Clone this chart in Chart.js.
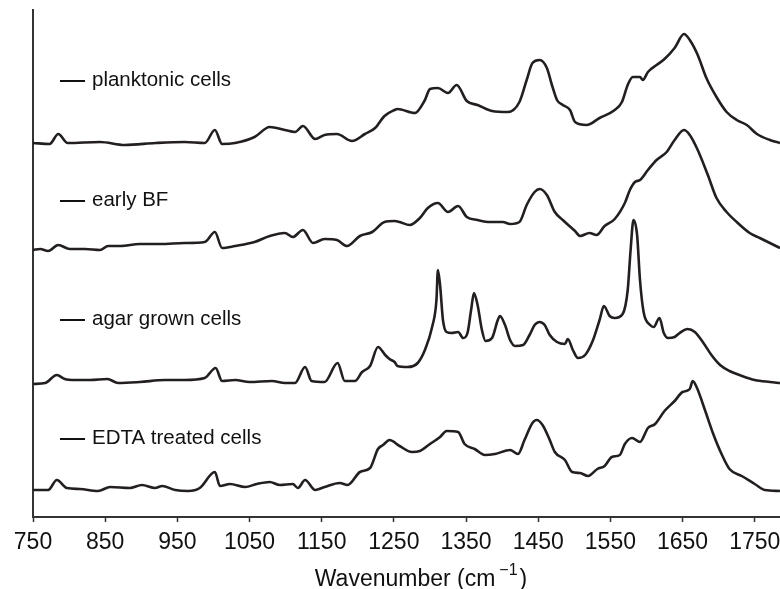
<!DOCTYPE html>
<html><head><meta charset="utf-8">
<script src="https://cdn.jsdelivr.net/npm/chart.js@4/dist/chart.umd.min.js"></script>
<style>html,body{margin:0;padding:0;background:#fff}</style>
</head><body>
<canvas id="c" width="780" height="589"></canvas>
<script>
// ---- data ----
const SERIES_NAMES = ['planktonic cells', 'early BF', 'agar grown cells', 'EDTA treated cells'];
const OFFSETS = [374, 267, 134, 27];           // vertical stacking offsets (a.u.)
const LABEL_LEVELS = [437, 317, 198, 79];       // label heights (a.u.)
const X_TICKS = [750, 850, 950, 1050, 1150, 1250, 1350, 1450, 1550, 1650, 1750];

const planktonicWn = [750,773,785,798,843,877,920,960,988,1002,
  1012,1030,1057,1078,1099,1113,1124,1141,1154,1171,
  1192,1210,1224,1237,1251,1255,1279,1293,1300,1311,
  1325,1337,1351,1366,1386,1408,1424,1434,1442,1452,
  1462,1469,1476,1484,1494,1501,1517,1535,1556,1566,
  1574,1581,1591,1595,1602,1614,1625,1639,1652,1660,
  1671,1683,1697,1711,1725,1739,1753,1771,1785];
const planktonicI = [0,-1,9,0,1,-2,0,1,0,13,
  -1,0,6,16,13,11,17,4,8,9,
  2,9,15,27,33,34,30,43,54,55,
  50,58,42,38,32,31,41,63,80,83,
  75,58,43,38,33,21,18,25,33,41,
  58,66,66,63,71,78,84,95,109,103,
  88,65,46,31,23,18,9,3,0];

const earlyWn = [750,760,771,785,801,822,843,854,871,898,
  926,960,988,1002,1012,1030,1057,1078,1099,1110,
  1124,1138,1154,1171,1185,1203,1220,1237,1251,1258,
  1272,1286,1297,1311,1325,1339,1351,1366,1383,1401,
  1411,1424,1434,1445,1452,1462,1473,1484,1501,1508,
  1521,1531,1542,1556,1570,1577,1584,1591,1602,1614,
  1628,1639,1652,1660,1671,1685,1697,1711,1725,1743,
  1757,1771,1785];
const earlyI = [0,1,-1,5,1,1,0,4,4,6,
  6,7,8,18,2,4,8,14,17,13,
  20,7,11,10,4,14,18,28,29,28,
  25,32,42,47,38,44,33,30,28,28,
  26,28,45,58,61,55,38,30,19,14,
  17,15,24,31,47,60,68,70,80,90,
  98,110,120,115,100,75,52,38,28,17,
  12,7,2];

const agarWn = [750,767,783,794,808,829,853,868,898,933,
  960,988,1003,1012,1030,1050,1081,1099,1113,1127,
  1136,1154,1172,1182,1196,1206,1217,1228,1238,1244,
  1251,1255,1269,1283,1293,1303,1309,1311,1314,1318,
  1323,1330,1339,1346,1352,1357,1361,1366,1372,1377,
  1386,1394,1397,1404,1411,1418,1429,1438,1445,1452,
  1459,1466,1476,1487,1491,1498,1505,1515,1526,1535,
  1541,1549,1556,1567,1574,1578,1582,1587,1591,1596,
  1605,1610,1618,1624,1630,1639,1646,1657,1667,1678,
  1690,1702,1715,1729,1750,1771,1785];
const agarI = [-1,0,8,4,3,3,4,0,1,3,
  3,5,15,2,3,1,2,0,0,16,
  2,1,20,2,2,11,17,36,28,24,
  21,17,16,20,33,56,83,113,98,63,
  51,50,51,45,50,73,90,78,53,42,
  45,63,67,58,43,37,38,48,58,61,
  58,48,41,39,44,33,25,28,43,63,
  77,67,65,69,93,133,163,148,103,71,
  58,56,65,50,45,46,50,54,51,41,
  28,18,12,8,3,1,0];

const edtaWn = [750,771,783,797,815,840,857,884,901,919,
  929,947,965,981,1002,1009,1023,1044,1060,1078,
  1092,1110,1117,1127,1141,1154,1175,1186,1203,1217,
  1228,1235,1244,1258,1275,1286,1300,1314,1323,1339,
  1348,1362,1376,1390,1411,1422,1431,1442,1448,1456,
  1466,1473,1487,1497,1508,1519,1532,1542,1552,1563,
  1570,1580,1591,1602,1612,1625,1639,1650,1660,1664,
  1670,1681,1692,1704,1715,1732,1750,1764,1785];
const edtaI = [0,0,10,2,1,-1,3,2,5,2,
  4,0,-1,2,18,4,6,3,6,8,
  5,6,2,10,0,3,7,5,18,22,
  41,45,50,44,38,39,46,53,59,58,
  46,41,35,36,40,36,50,67,70,65,
  50,38,30,18,17,14,21,24,33,35,
  46,52,48,62,66,79,89,98,101,109,
  102,80,57,36,21,14,6,0,-1];

const SPECTRA = [[planktonicWn, planktonicI], [earlyWn, earlyI], [agarWn, agarI], [edtaWn, edtaI]];

// ---- chart ----
const INK = '#231f20';
const FONT = '"Liberation Sans", Arial, Helvetica, sans-serif';

const datasets = SPECTRA.map(([wn, inten], i) => ({
  label: SERIES_NAMES[i],
  data: wn.map((w, k) => ({ x: w, y: inten[k] + OFFSETS[i] })),
  borderColor: INK,
  borderWidth: 2.6,
  pointRadius: 0,
  cubicInterpolationMode: 'monotone',
  fill: false
}));

const annot = {
  id: 'annot',
  afterDraw(chart) {
    const ctx = chart.ctx, xs = chart.scales.x, ys = chart.scales.y;
    ctx.save();
    ctx.fillStyle = '#111';
    ctx.strokeStyle = '#111';
    ctx.lineWidth = 2;
    ctx.font = '20.5px ' + FONT;
    ctx.textBaseline = 'middle';
    ctx.textAlign = 'left';
    const x0 = xs.left + 27;
    SERIES_NAMES.forEach((name, i) => {
      const y = ys.getPixelForValue(LABEL_LEVELS[i]);
      ctx.beginPath();
      ctx.moveTo(x0, y + 1);
      ctx.lineTo(x0 + 25, y + 1);
      ctx.stroke();
      ctx.fillText(name, x0 + 32, y);
    });
    // axis title with superscript
    const main = 'Wavenumber (cm', sup = '\u22121', close = ')';
    ctx.font = '23px ' + FONT;
    const w1 = ctx.measureText(main).width, w3 = ctx.measureText(close).width;
    ctx.font = '16px ' + FONT;
    const w2 = ctx.measureText(sup).width;
    const total = w1 + 4 + w2 + 2 + w3;
    const cx = 421, ty = 578;
    let x = cx - total / 2;
    ctx.textBaseline = 'alphabetic';
    ctx.font = '23px ' + FONT;
    ctx.fillText(main, x, ty + 8);
    x += w1 + 4;
    ctx.font = '16px ' + FONT;
    ctx.fillText(sup, x, ty - 3);
    x += w2 + 2;
    ctx.font = '23px ' + FONT;
    ctx.fillText(close, x, ty + 8);
    ctx.restore();
  }
};

new Chart(document.getElementById('c'), {
  type: 'line',
  data: { datasets },
  options: {
    responsive: false,
    animation: false,
    devicePixelRatio: 1,
    layout: { padding: { top: 10, right: 0, left: 0, bottom: 0 } },
    plugins: { legend: { display: false }, tooltip: { enabled: false } },
    scales: {
      x: {
        type: 'linear',
        min: 750, max: 1785,
        afterBuildTicks: s => { s.ticks = X_TICKS.map(v => ({ value: v })); },
        afterFit: s => { s.height = 72; s.paddingLeft = 0; s.paddingRight = 0; },
        grid: { display: true, drawOnChartArea: false, drawTicks: true, tickLength: 5, color: '#333', tickWidth: 1.5 },
        border: { display: true, color: '#333', width: 2 },
        ticks: { color: '#111', font: { family: FONT, size: 23 }, padding: 7, maxRotation: 0, autoSkip: false,
                 callback: v => String(v) }
      },
      y: {
        min: 0, max: 507,
        afterFit: s => { s.width = 33; },
        grid: { display: false },
        border: { display: true, color: '#333', width: 2 },
        ticks: { display: false }
      }
    }
  },
  plugins: [annot]
});
</script>
</body></html>
